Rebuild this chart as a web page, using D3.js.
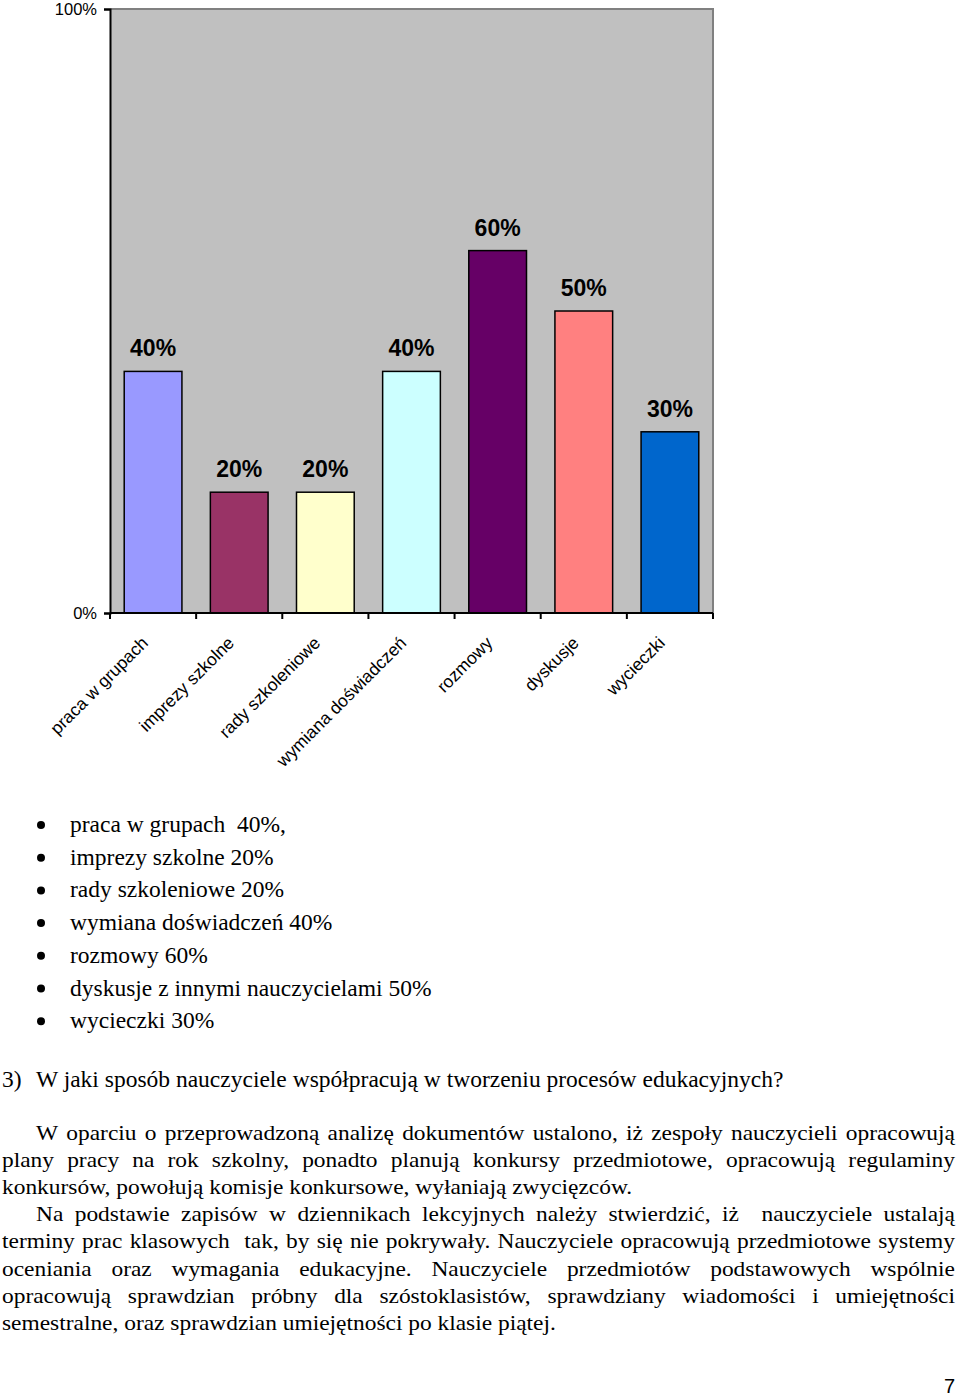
<!DOCTYPE html>
<html>
<head>
<meta charset="utf-8">
<script src="https://cdn.jsdelivr.net/npm/d3@7"></script>
<style>
  html, body { margin: 0; padding: 0; background: #ffffff; }
  svg { display: block; }
</style>
</head>
<body>
<svg id="chart" width="960" height="1397"></svg>
<script>
// ---------- data ----------
const categories = ["praca w grupach", "imprezy szkolne", "rady szkoleniowe", "wymiana doświadczeń", "rozmowy", "dyskusje", "wycieczki"];
const values = [40, 20, 20, 40, 60, 50, 30];
const barColors = ["#9999ff", "#993366", "#ffffcc", "#ccffff", "#660066", "#ff8080", "#0066cc"];
const yTickValues = [0, 100];
const yTickLabels = ["0%", "100%"];

const listItems = [
  "praca w grupach  40%,",
  "imprezy szkolne 20%",
  "rady szkoleniowe 20%",
  "wymiana doświadczeń 40%",
  "rozmowy 60%",
  "dyskusje z innymi nauczycielami 50%",
  "wycieczki 30%"
];
const questionNum = "3)";
const questionText = "W jaki sposób nauczyciele współpracują w tworzeniu procesów edukacyjnych?";
const paraLines = [
  "W oparciu o przeprowadzoną analizę dokumentów ustalono, iż zespoły nauczycieli opracowują",
  "plany pracy na rok szkolny, ponadto planują konkursy przedmiotowe, opracowują regulaminy",
  "konkursów, powołują komisje konkursowe, wyłaniają zwycięzców.",
  "Na podstawie zapisów w dziennikach lekcyjnych należy stwierdzić, iż  nauczyciele ustalają",
  "terminy prac klasowych  tak, by się nie pokrywały. Nauczyciele opracowują przedmiotowe systemy",
  "oceniania oraz wymagania edukacyjne. Nauczyciele przedmiotów podstawowych wspólnie",
  "opracowują sprawdzian próbny dla szóstoklasistów, sprawdziany wiadomości i umiejętności",
  "semestralne, oraz sprawdzian umiejętności po klasie piątej."
];
const paraIndent = [true, false, false, true, false, false, false, false];
const paraJustify = [true, true, false, true, true, true, true, false];
const pageNumber = "7";

// ---------- layout ----------
const svg = d3.select("#chart");
const plot = { left: 110, right: 713, top: 9, bottom: 613 };
const SANS = "'Liberation Sans', Arial, sans-serif";
const SERIF = "'Liberation Serif', 'Times New Roman', serif";

const x = d3.scaleBand()
  .domain(categories)
  .range([plot.left, plot.right])
  .paddingInner(0.33)
  .paddingOuter(0.165);
const y = d3.scaleLinear().domain([0, 100]).range([plot.bottom, plot.top]);

// plot area background
svg.append("rect")
  .attr("x", plot.left).attr("y", plot.top)
  .attr("width", plot.right - plot.left).attr("height", plot.bottom - plot.top)
  .attr("fill", "#c0c0c0");
// top & right gray border
svg.append("path")
  .attr("d", `M${plot.left},${plot.top}H${plot.right}V${plot.bottom}`)
  .attr("fill", "none").attr("stroke", "#808080").attr("stroke-width", 2);

// bars
svg.selectAll("rect.bar")
  .data(categories)
  .join("rect")
  .attr("class", "bar")
  .attr("x", d => x(d))
  .attr("width", x.bandwidth())
  .attr("y", (d, i) => y(values[i]))
  .attr("height", (d, i) => y(0) - y(values[i]))
  .attr("fill", (d, i) => barColors[i])
  .attr("stroke", "#000").attr("stroke-width", 1.5);

// value labels
svg.selectAll("text.val")
  .data(categories)
  .join("text")
  .attr("class", "val")
  .attr("x", d => x(d) + x.bandwidth() / 2)
  .attr("y", (d, i) => y(values[i]) - 15)
  .attr("text-anchor", "middle")
  .attr("font-family", SANS).attr("font-weight", "bold").attr("font-size", 23)
  .attr("fill", "#000")
  .text((d, i) => values[i] + "%");

// y axis
const yAxis = d3.axisLeft(y)
  .tickValues(yTickValues)
  .tickFormat((d, i) => yTickLabels[i])
  .tickSize(6).tickPadding(7);
const gy = svg.append("g").attr("transform", `translate(${plot.left},0)`).call(yAxis);
gy.select(".domain").attr("stroke", "#000").attr("stroke-width", 2);
gy.selectAll(".tick line").attr("stroke", "#000").attr("stroke-width", 2);
gy.selectAll(".tick text").attr("font-family", SANS).attr("font-size", 16.5).attr("fill", "#000");

// x axis line with ticks at category boundaries
const step = x.step();
const boundaries = d3.range(categories.length + 1).map(i => plot.left + i * step);
svg.append("line")
  .attr("x1", plot.left).attr("x2", plot.right)
  .attr("y1", plot.bottom).attr("y2", plot.bottom)
  .attr("stroke", "#000").attr("stroke-width", 2);
svg.selectAll("line.xtick")
  .data(boundaries)
  .join("line")
  .attr("class", "xtick")
  .attr("x1", d => d).attr("x2", d => d)
  .attr("y1", plot.bottom).attr("y2", plot.bottom + 6)
  .attr("stroke", "#000").attr("stroke-width", 2);

// rotated category labels
svg.selectAll("text.cat")
  .data(categories)
  .join("text")
  .attr("class", "cat")
  .attr("text-anchor", "end")
  .attr("font-family", SANS).attr("font-size", 17.5).attr("fill", "#000")
  .attr("transform", d => `translate(${x(d) + x.bandwidth() / 2 - 4},${plot.bottom + 31}) rotate(-45)`)
  .text(d => d);

// ---------- bullet list ----------
const listBase = 832, listStep = 32.7, listFs = 23.5;
const lg = svg.append("g");
lg.selectAll("circle")
  .data(listItems)
  .join("circle")
  .attr("cx", 41).attr("cy", (d, i) => listBase + i * listStep - 7)
  .attr("r", 4).attr("fill", "#000");
lg.selectAll("text")
  .data(listItems)
  .join("text")
  .attr("x", 70).attr("y", (d, i) => listBase + i * listStep)
  .attr("font-family", SERIF).attr("font-size", listFs).attr("fill", "#000")
  .attr("xml:space", "preserve").style("white-space", "pre")
  .text(d => d);

// question line
svg.append("text").attr("x", 2).attr("y", 1087)
  .attr("font-family", SERIF).attr("font-size", listFs).attr("fill", "#000")
  .text(questionNum);
svg.append("text").attr("x", 36).attr("y", 1087)
  .attr("font-family", SERIF).attr("font-size", listFs).attr("fill", "#000")
  .text(questionText);

// ---------- justified paragraph ----------
const paraFs = 21;
const paraBase = 1140, paraStep = 27.1;
const rightEdge = 955;
function measure(str) {
  const t = svg.append("text").attr("font-family", SERIF).attr("font-size", paraFs)
    .style("white-space", "pre").text(str);
  const w = t.node().getComputedTextLength();
  t.remove();
  return w;
}
// horizontal condensation measured from last line (natural width in reference ~554px)
const sx = 554 / measure(paraLines[7]);
paraLines.forEach((line, i) => {
  const x0 = paraIndent[i] ? 36 : 2;
  const g = svg.append("g").attr("transform", `translate(${x0},${paraBase + i * paraStep}) scale(${sx},1)`);
  const txt = g.append("text").attr("font-family", SERIF).attr("font-size", paraFs).attr("fill", "#000");
  if (!paraJustify[i]) {
    txt.text(line);
  } else {
    const words = line.split(" ");
    const widths = words.map(w => w.length ? measure(w) : 0);
    const total = d3.sum(widths);
    const target = (rightEdge - x0) / sx;
    const gap = (target - total) / (words.length - 1);
    let cx = 0;
    words.forEach((w, k) => {
      if (w.length) txt.append("tspan").attr("x", cx).text(w);
      cx += widths[k] + gap;
    });
  }
});

// page number
svg.append("text").attr("x", 955).attr("y", 1393).attr("text-anchor", "end")
  .attr("font-family", SANS).attr("font-size", 20).attr("fill", "#000")
  .text(pageNumber);
</script>
</body>
</html>
